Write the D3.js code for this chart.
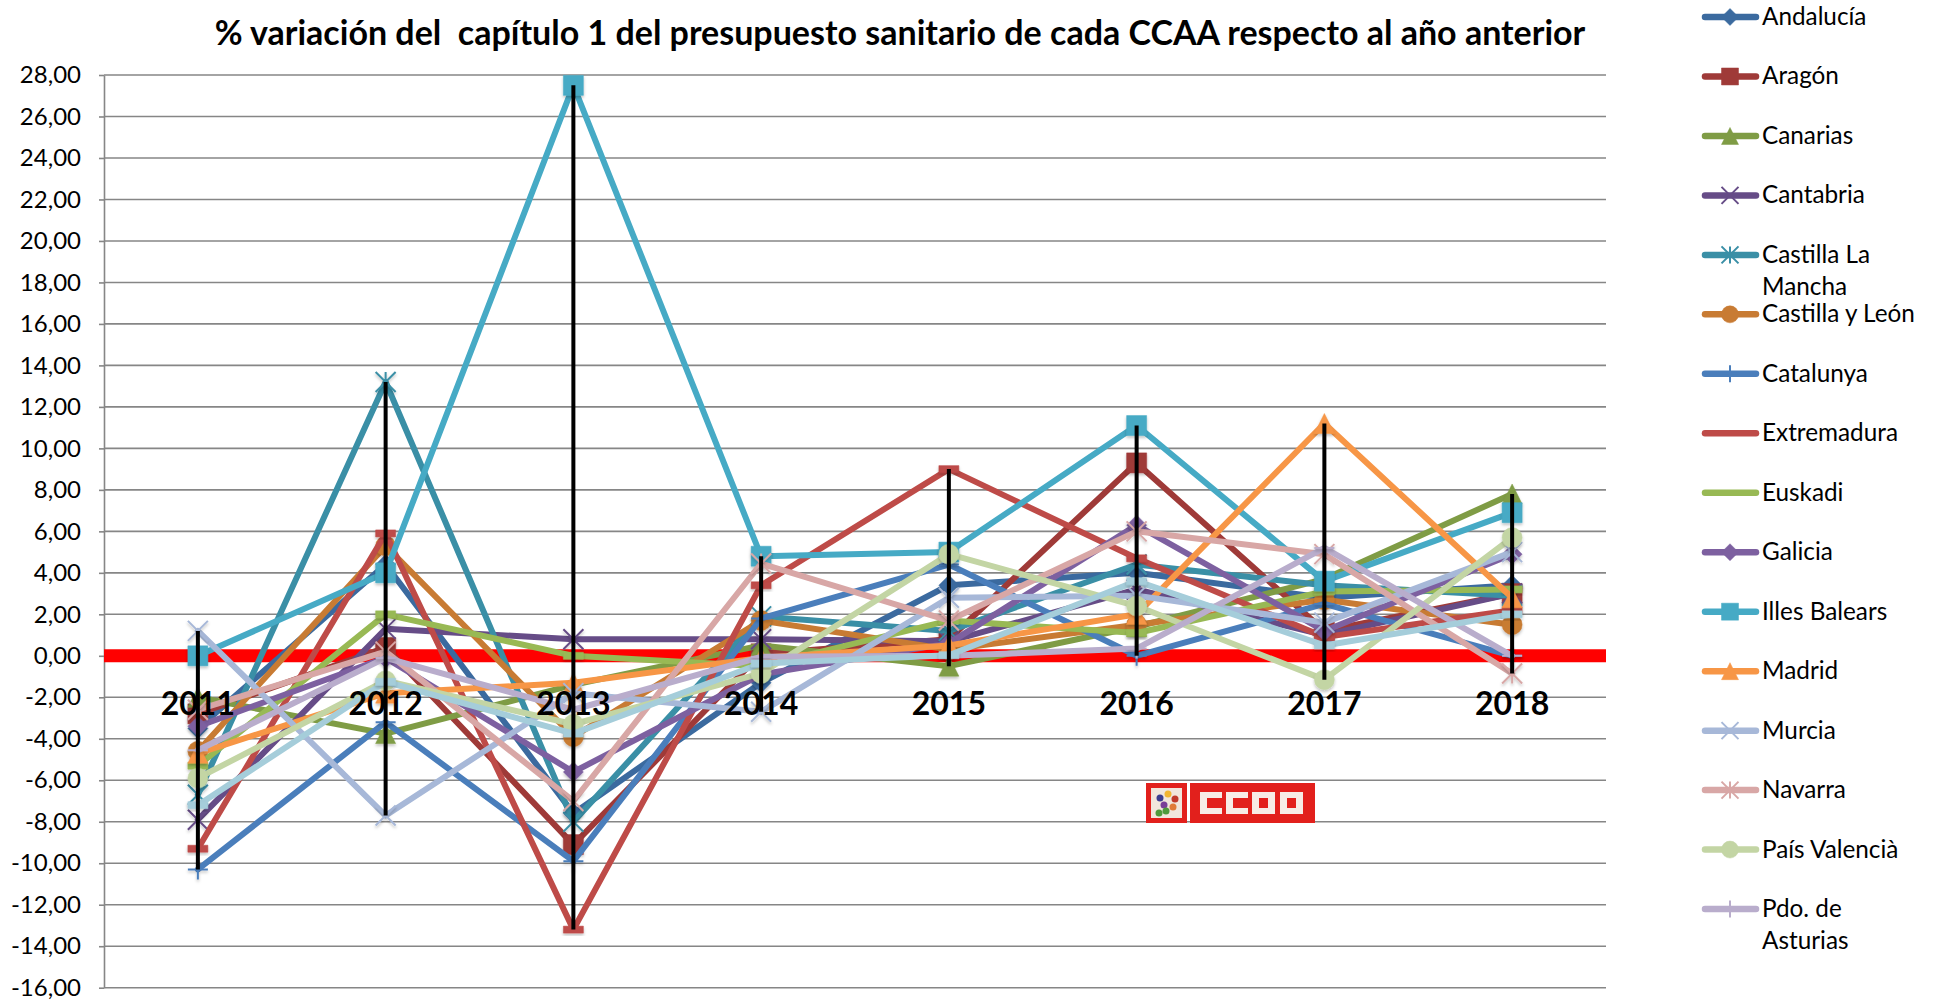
<!DOCTYPE html>
<html>
<head>
<meta charset="utf-8">
<style>
    html, body { margin: 0; padding: 0; background: #fff; }
    svg { display: block; }
    text { font-family: Lato, "Open Sans", sans-serif; fill: #000; }
    .domain, .tick line { stroke: #868686; stroke-width: 1.6; }
</style>
<script src="https://cdnjs.cloudflare.com/ajax/libs/d3/7.8.5/d3.min.js"></script>
</head>
<body>
<script>
"use strict";

var TITLE = "% variación del  capítulo 1 del presupuesto sanitario de cada CCAA respecto al año anterior";
var years = ["2011", "2012", "2013", "2014", "2015", "2016", "2017", "2018"];
var yTicks = d3.range(-16, 30, 2);

var andalucia = [-3.5, 4.4, -7.6, -1.3, 3.4, 4.0, 2.8, 3.4];
var aragon = [-2.8, 0.4, -9.1, 0.1, 0.8, 9.3, 1.2, 3.0];
var canarias = [-2.0, -3.75, -1.4, 0.5, -0.5, 1.4, 3.7, 7.8];
var cantabria = [-7.9, 1.3, 0.8, 0.8, 0.7, 3.2, 1.0, 3.0];
var clm = [-6.7, 13.2, -8.0, 1.9, 1.2, 4.4, 3.4, 2.9];
var castillaLeon = [-4.6, 5.3, -3.9, 1.7, 0.3, 1.5, 2.7, 1.5];
var catalunya = [-10.3, -3.2, -9.9, 1.8, 4.4, 0.0, 2.5, 0.0];
var extremadura = [-9.3, 5.9, -13.2, 3.4, 9.0, 4.7, 0.9, 2.2];
var euskadi = [-5.3, 2.0, 0.0, -0.5, 1.7, 1.1, 3.1, 3.2];
var galicia = [-3.4, -0.1, -5.6, -0.9, 0.6, 6.3, 1.2, 4.9];
var illesBalears = [0.0, 4.0, 27.5, 4.8, 5.0, 11.1, 3.6, 6.9];
var madrid = [-4.7, -1.8, -1.3, -0.1, 0.5, 2.0, 11.2, 2.8];
var murcia = [1.2, -7.7, -1.8, -2.7, 2.8, 2.9, 1.6, 5.0];
var navarra = [-2.6, 0.2, -7.0, 4.45, 1.7, 6.0, 4.9, -0.85];
var paisValencia = [-5.9, -1.2, -3.3, -0.85, 4.9, 2.4, -1.15, 5.7];
var asturias = [-4.55, -0.1, -2.6, -0.05, 0.0, 0.35, 5.2, 0.0];
var laRioja = [-7.2, -1.25, -3.75, -0.37, 0.03, 3.6, 0.5, 2.0];

var seriesNames = ["Andalucía", "Aragón", "Canarias", "Cantabria", "Castilla La|Mancha", "Castilla y León",
    "Catalunya", "Extremadura", "Euskadi", "Galicia", "Illes Balears", "Madrid", "Murcia", "Navarra",
    "País Valencià", "Pdo. de|Asturias", ""];
var seriesValues = [andalucia, aragon, canarias, cantabria, clm, castillaLeon, catalunya, extremadura,
    euskadi, galicia, illesBalears, madrid, murcia, navarra, paisValencia, asturias, laRioja];
var seriesColors = ["#3b6a9f", "#9f3a38", "#7f9c45", "#664c87", "#3a8fa6", "#c87b33", "#4a7ebb", "#be4b48",
    "#98b954", "#7d60a0", "#46aac5", "#f79646", "#a7b8d8", "#d8a7a6", "#c3d5a4", "#b9adcc", "#a5cdda"];
var seriesMarkers = ["diamond", "square", "triangle", "x", "star", "circle", "plus", "dash",
    "dash", "diamond", "square", "triangle", "x", "star", "circle", "plus", "dash"];

var LEFT = 104,
    RIGHT = 1606,
    TOP = 75,
    BOTTOM = 987.7,
    LINE_WIDTH = 6;

var svg = d3.select("body").append("svg")
    .attr("width", 1933)
    .attr("height", 1000);

// soft shadow under the solid markers, as the spreadsheet draws them
var shadow = svg.append("defs").append("filter")
    .attr("id", "marker-shadow")
    .attr("x", "-40%")
    .attr("y", "-40%")
    .attr("width", "180%")
    .attr("height", "180%");
shadow.append("feDropShadow")
    .attr("dx", 0)
    .attr("dy", 2)
    .attr("stdDeviation", 1.5)
    .attr("flood-color", "#000")
    .attr("flood-opacity", 0.25);

var x = d3.scaleBand().domain(years).range([LEFT, RIGHT]);
var y = d3.scaleLinear().domain([-16, 28]).range([BOTTOM, TOP]);

function markerPath(kind, s) {
    var h = s / 2;
    if (kind === "diamond") {
        return "M0," + (-h) + "L" + h + ",0L0," + h + "L" + (-h) + ",0Z";
    }
    if (kind === "square") {
        return "M" + (-h) + "," + (-h) + "H" + h + "V" + h + "H" + (-h) + "Z";
    }
    if (kind === "triangle") {
        return "M0," + (-h) + "L" + h + "," + h + "H" + (-h) + "Z";
    }
    if (kind === "circle") {
        return "M" + (-h) + ",0A" + h + "," + h + " 0 1,1 " + h + ",0A" + h + "," + h + " 0 1,1 " + (-h) + ",0Z";
    }
    if (kind === "dash") {
        return "M" + (-h) + ",-3.5H" + h + "V3.5H" + (-h) + "Z";
    }
    if (kind === "plus") {
        return "M0," + (-h) + "V" + h + "M" + (-h) + ",0H" + h;
    }
    if (kind === "x") {
        return "M" + (-h) + "," + (-h) + "L" + h + "," + h + "M" + h + "," + (-h) + "L" + (-h) + "," + h;
    }
    return "M" + (-h) + "," + (-h) + "L" + h + "," + h + "M" + h + "," + (-h) + "L" + (-h) + "," + h + "M0," + (-h) + "V" + h;
}

function drawMarker(sel, kind, color, size) {
    var open = (kind === "plus" || kind === "x" || kind === "star");
    sel.attr("d", markerPath(kind, size))
        .attr("fill", open ? "none" : color)
        .attr("stroke", color)
        .attr("stroke-width", open ? 2 : 0.5);
}

// gridlines and axes
svg.append("g").selectAll("line")
    .data(yTicks)
    .join("line")
    .attr("x1", LEFT)
    .attr("x2", RIGHT)
    .attr("y1", function (d) { return y(d); })
    .attr("y2", function (d) { return y(d); })
    .attr("stroke", "#868686")
    .attr("stroke-width", 1.6);

var yAxis = svg.append("g")
    .attr("transform", "translate(" + LEFT + ",0)")
    .call(d3.axisLeft(y)
        .tickValues(yTicks)
        .tickSize(5)
        .tickPadding(18)
        .tickSizeOuter(0)
        .tickFormat(function (d) { return d3.format(".2f")(d).replace(".", ",").replace("−", "-"); }));
yAxis.selectAll("text").attr("font-size", 24).style("font-family", "Lato");

// zero reference
svg.append("line")
    .attr("x1", LEFT)
    .attr("x2", RIGHT)
    .attr("y1", y(0))
    .attr("y2", y(0))
    .attr("stroke", "#ff0000")
    .attr("stroke-width", 13);

var line = d3.line()
    .x(function (d, i) { return x(years[i]) + x.bandwidth() / 2; })
    .y(function (d) { return y(d); });

var groups = svg.append("g").selectAll("g")
    .data(seriesValues)
    .join("g");

groups.append("path")
    .attr("d", function (d) { return line(d); })
    .attr("fill", "none")
    .attr("stroke", function (d, i) { return seriesColors[i]; })
    .attr("stroke-width", LINE_WIDTH)
    .attr("stroke-linejoin", "round")
    .attr("stroke-linecap", "round");

groups.each(function (values, s) {
    d3.select(this).selectAll("path.marker")
        .data(values)
        .join("path")
        .attr("class", "marker")
        .attr("transform", function (d, i) {
            return "translate(" + (x(years[i]) + x.bandwidth() / 2) + "," + y(d) + ")";
        })
        .attr("filter", "url(#marker-shadow)")
        .each(function () {
            drawMarker(d3.select(this), seriesMarkers[s], seriesColors[s], 20);
        });
});

// high-low lines
svg.append("g").selectAll("line")
    .data(years)
    .join("line")
    .attr("x1", function (d) { return x(d) + x.bandwidth() / 2; })
    .attr("x2", function (d) { return x(d) + x.bandwidth() / 2; })
    .attr("y1", function (d, i) {
        return y(d3.max(seriesValues, function (v) { return v[i]; }));
    })
    .attr("y2", function (d, i) {
        return y(d3.min(seriesValues, function (v) { return v[i]; }));
    })
    .attr("stroke", "#000")
    .attr("stroke-width", 4);

// category labels sit on the zero line side of the plot
svg.append("g").selectAll("text")
    .data(years)
    .join("text")
    .attr("x", function (d) { return x(d) + x.bandwidth() / 2; })
    .attr("y", 715)
    .attr("text-anchor", "middle")
    .attr("font-size", 32)
    .attr("font-weight", 700)
    .text(function (d) { return d; });

svg.append("text")
    .attr("x", 900)
    .attr("y", 45)
    .attr("text-anchor", "middle")
    .attr("font-size", 34)
    .attr("font-weight", 700)
    .style("white-space", "pre")
    .text(TITLE);

// legend, the last series has no entry
var LEGEND_Y = 17,
    LEGEND_STEP = 59.47;

var legend = svg.append("g").selectAll("g")
    .data(seriesNames.filter(function (d) { return d !== ""; }))
    .join("g")
    .attr("transform", function (d, i) {
        return "translate(0," + (LEGEND_Y + i * LEGEND_STEP) + ")";
    });

legend.append("line")
    .attr("x1", 1705)
    .attr("x2", 1756)
    .attr("stroke", function (d, i) { return seriesColors[i]; })
    .attr("stroke-width", 6.5)
    .attr("stroke-linecap", "round");

legend.append("path")
    .attr("transform", "translate(1730,0)")
    .each(function (d, i) {
        if (seriesMarkers[i] !== "dash") {
            drawMarker(d3.select(this), seriesMarkers[i], seriesColors[i], 17);
        }
    });

legend.append("text")
    .attr("x", 1762)
    .attr("y", 8)
    .attr("font-size", 24.3)
    .attr("fill", "#111")
    .each(function (d) {
        d3.select(this).selectAll("tspan")
            .data(d.split("|"))
            .join("tspan")
            .attr("x", 1762)
            .attr("dy", function (t, i) { return i === 0 ? 0 : 32; })
            .text(function (t) { return t; });
    });

// CCOO logo
var logo = svg.append("g").attr("transform", "translate(1146,783)");
var LOGO_RED = "#e2201c";
logo.append("rect").attr("width", 41).attr("height", 40).attr("fill", LOGO_RED);
logo.append("rect").attr("x", 5).attr("y", 5).attr("width", 31).attr("height", 30).attr("fill", "#f1e6dc");
logo.selectAll("circle.spot")
    .data([[14, 15, "#3d3d8f"], [22, 11, "#f2b632"], [29, 16, "#c0392b"], [18, 22, "#7a3f98"], [27, 24, "#e07b39"], [13, 30, "#4e9a3b"], [20, 28, "#4e9a3b"]])
    .join("circle")
    .attr("class", "spot")
    .attr("cx", function (d) { return d[0]; })
    .attr("cy", function (d) { return d[1]; })
    .attr("r", 3.5)
    .attr("fill", function (d) { return d[2]; });
logo.append("rect").attr("x", 44).attr("width", 125).attr("height", 40).attr("fill", LOGO_RED);
[54, 80].forEach(function (lx) {
    logo.append("path")
        .attr("d", "M" + (lx + 22) + ",9H" + lx + "V31H" + (lx + 22) + "V25H" + (lx + 7) + "V15H" + (lx + 22) + "Z")
        .attr("fill", "#f7ece6");
});
[106, 134].forEach(function (lx) {
    logo.append("path")
        .attr("d", "M" + lx + ",9H" + (lx + 23) + "V31H" + lx + "ZM" + (lx + 7) + ",15V25H" + (lx + 16) + "V15Z")
        .attr("fill", "#f7ece6")
        .attr("fill-rule", "evenodd");
});
</script>
</body>
</html>
